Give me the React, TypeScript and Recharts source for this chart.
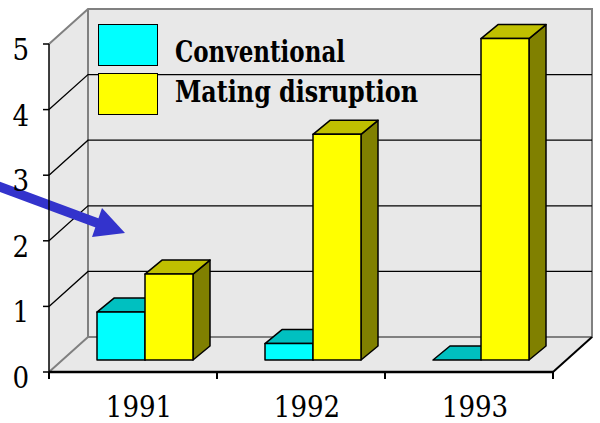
import React from 'react';
import { BarChart, Bar, XAxis, YAxis, Legend } from 'recharts';

const years = ['1991', '1992', '1993'];
const conventional = [0.73, 0.25, 0];
const matingDisruption = [1.31, 3.44, 4.9];
const yTicks = [0, 1, 2, 3, 4, 5];

const data = years.map((year, i) => ({
  year,
  conventional: conventional[i],
  mating: matingDisruption[i],
}));

// layout of the front plane
const W = 600;
const H = 423;
const LEFT = 49;
const RIGHT = 47;
const TOP = 44;
const BOTTOM = 51;
const xL = LEFT;
const xR = W - RIGHT;
const yT = TOP;
const yB = H - BOTTOM;

// depth of the walls and of the bars
const DX = 39;
const DY = -35;
const SHIFT_X = 12;
const SHIFT_Y = -12;
const BDX = 17;
const BDY = -14;

const WALL = '#e8e8e8';
const EDGE = '#808080';
const FONT = "'DejaVu Serif Condensed', 'DejaVu Serif', serif";

const makeBar = (front: string, top: string, side: string) => (props: any) => {
  const { x, y, width, height } = props;
  const fx = x + SHIFT_X;
  const fy = y + SHIFT_Y;
  const w = width;
  const h = height;
  const topPts = `${fx},${fy} ${fx + w},${fy} ${fx + w + BDX},${fy + BDY} ${fx + BDX},${fy + BDY}`;
  const sidePts = `${fx + w},${fy} ${fx + w + BDX},${fy + BDY} ${fx + w + BDX},${fy + h + BDY} ${fx + w},${fy + h}`;
  return (
    <g stroke="#000" strokeWidth={1.5} strokeLinejoin="round">
      {h > 0 && <polygon points={sidePts} fill={side} />}
      <polygon points={topPts} fill={top} />
      {h > 0 && <rect x={fx} y={fy} width={w} height={h} fill={front} />}
    </g>
  );
};

const cyanBar = makeBar('#00ffff', '#00c0c0', '#008080');
const yellowBar = makeBar('#ffff00', '#c0c000', '#808000');

const Walls = () => {
  const unit = (yB - yT) / 5;
  const grid = [1, 2, 3, 4].map((v) => {
    const fy = yB - v * unit;
    return (
      <polyline
        key={v}
        points={`${xL},${fy} ${xL + DX},${fy + DY} ${xR + DX},${fy + DY}`}
        fill="none"
        stroke="#000"
        strokeWidth={1.3}
      />
    );
  });
  return (
    <g>
      <polygon points={`${xL},${yB} ${xL},${yT} ${xL + DX},${yT + DY} ${xL + DX},${yB + DY}`} fill={WALL} />
      <rect x={xL + DX} y={yT + DY} width={xR - xL} height={yB - yT} fill={WALL} />
      <polygon points={`${xL},${yB} ${xR},${yB} ${xR + DX},${yB + DY} ${xL + DX},${yB + DY}`} fill={WALL} />
      <polyline
        points={`${xL},${yT} ${xL + DX},${yT + DY} ${xR + DX},${yT + DY} ${xR + DX},${yB + DY} ${xL + DX},${yB + DY} ${xL},${yB}`}
        fill="none"
        stroke={EDGE}
        strokeWidth={2}
      />
      <line x1={xL + DX} y1={yT + DY} x2={xL + DX} y2={yB + DY} stroke={EDGE} strokeWidth={2} />
      {grid}
      <line x1={xR} y1={yB} x2={xR + DX} y2={yB + DY} stroke="#000" strokeWidth={2} />
    </g>
  );
};

const Arrow = () => (
  <g fill="#3333cc" stroke="none">
    <line x1={-5} y1={185} x2={100} y2={224} stroke="#3333cc" strokeWidth={9.5} />
    <polygon points="125,233 102,208 92,237" />
  </g>
);

const YTick = (props: any) => {
  const { payload } = props;
  return (
    <text x={29} y={payload.coordinate + 16} textAnchor="end" fontFamily={FONT} fontSize={29} fill="#000">
      {payload.value}
    </text>
  );
};

const XTick = (props: any) => {
  const { payload, index, visibleTicksCount } = props;
  const cx = payload.coordinate;
  const half = (xR - xL) / years.length / 2;
  return (
    <g>
      <line x1={cx - half} y1={yB} x2={cx - half} y2={yB + 7} stroke="#000" strokeWidth={2} />
      {index === visibleTicksCount - 1 && (
        <line x1={cx + half} y1={yB} x2={cx + half} y2={yB + 7} stroke="#000" strokeWidth={2} />
      )}
      <text x={cx + 6} y={yB + 45} textAnchor="middle" fontFamily={FONT} fontSize={29} fill="#000">
        {payload.value}
      </text>
    </g>
  );
};

const renderLegend = (props: any) => {
  const items = props.payload || [];
  return (
    <svg width={340} height={95} style={{ display: 'block', overflow: 'visible' }}>
      {items.map((item: any, i: number) => (
        <g key={item.value}>
          <rect x={0.5} y={0.5 + i * 49} width={59} height={41} fill={item.color} stroke="#000" strokeWidth={1} />
          <text
            x={77}
            y={38 + i * 40}
            fontFamily={FONT}
            fontWeight="bold"
            fontSize={29}
            fill="#000"
            textLength={i === 0 ? 170 : 243}
            lengthAdjust="spacingAndGlyphs"
          >
            {item.value}
          </text>
        </g>
      ))}
    </svg>
  );
};

export default function App() {
  return (
    <div style={{ position: 'absolute', left: 0, top: 0, width: W, height: H, background: '#fff' }}>
      <BarChart
        width={W}
        height={H}
        data={data}
        barGap={0}
        margin={{ top: TOP, right: RIGHT, left: 0, bottom: 0 }}
      >
        <g>
          <Walls />
          <Arrow />
        </g>
        <XAxis
          dataKey="year"
          height={BOTTOM}
          axisLine={{ stroke: '#000', strokeWidth: 2.5 }}
          tickLine={false}
          tick={<XTick />}
          interval={0}
        />
        <YAxis
          type="number"
          domain={[0, 5]}
          ticks={yTicks}
          width={LEFT}
          interval={0}
          axisLine={{ stroke: '#000', strokeWidth: 1.5 }}
          tickLine={{ stroke: '#000', strokeWidth: 1.5 }}
          tickSize={6}
          tick={<YTick />}
        />
        <Legend
          layout="vertical"
          align="center"
          verticalAlign="middle"
          content={renderLegend}
          wrapperStyle={{ position: 'absolute', left: 98, top: 24, width: 340, height: 95 }}
        />
        <Bar dataKey="conventional" name="Conventional" fill="#00ffff" barSize={48} shape={cyanBar} isAnimationActive={false} />
        <Bar dataKey="mating" name="Mating disruption" fill="#ffff00" barSize={48} shape={yellowBar} isAnimationActive={false} />
      </BarChart>
    </div>
  );
}
